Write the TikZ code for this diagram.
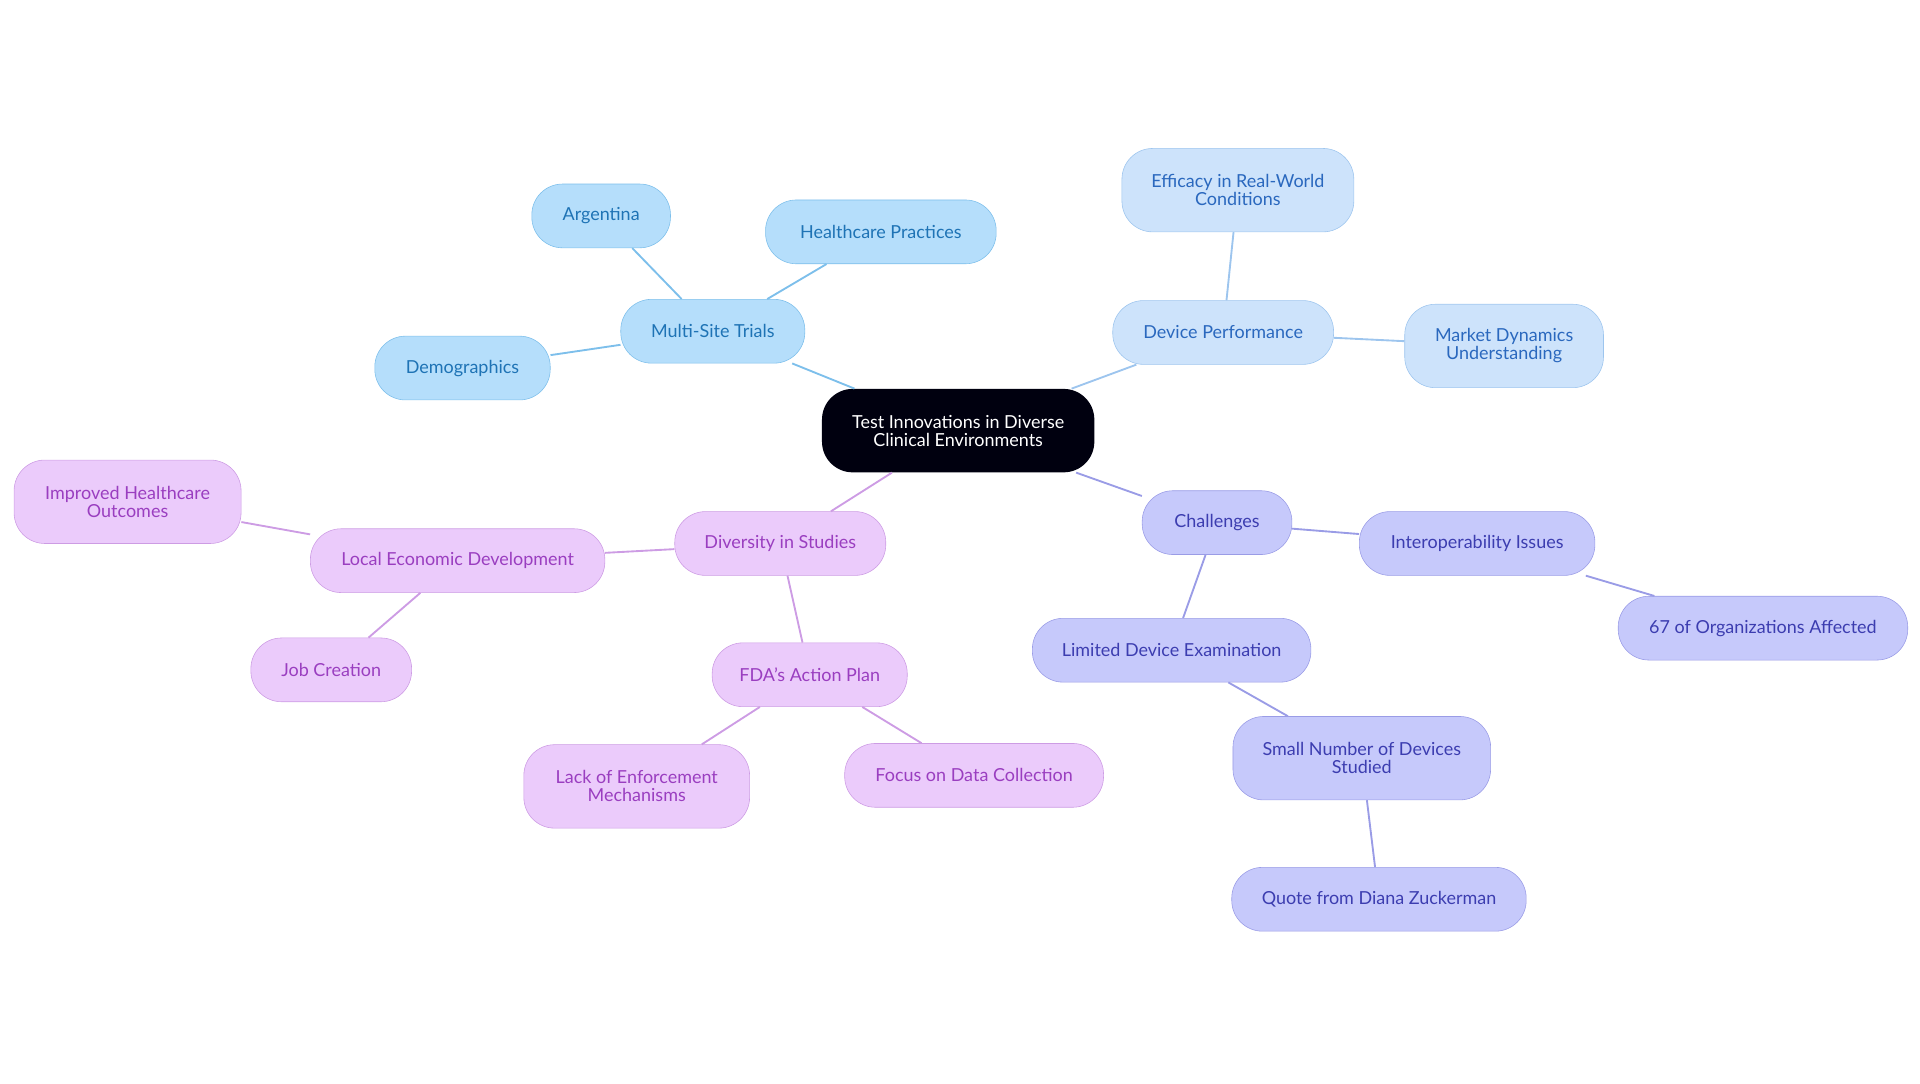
\documentclass[tikz,border=0pt]{standalone}
\usepackage{fontspec}
\setmainfont{Lato}
\definecolor{bluefill}{HTML}{B5DEFB}
\definecolor{blueline}{HTML}{7DBFEB}
\definecolor{bluetext}{HTML}{1E73B5}
\definecolor{skyfill}{HTML}{CDE3FB}
\definecolor{skyline}{HTML}{9DC5EE}
\definecolor{skytext}{HTML}{2A68BE}
\definecolor{indfill}{HTML}{C6C9FB}
\definecolor{indline}{HTML}{9A9CE6}
\definecolor{indtext}{HTML}{3C3DB0}
\definecolor{purfill}{HTML}{EBCBFB}
\definecolor{purline}{HTML}{CD9CE4}
\definecolor{purtext}{HTML}{9A3EC0}
\tikzset{
    BX/.style ={rectangle,rounded corners=7.5mm,minimum height=52*0.3mm,align=center,font=\fontsize{12.5}{12.5}\selectfont,inner sep=1pt},
    BL/.style ={BX,draw=blueline,fill=bluefill,text=bluetext},
    SK/.style ={BX,draw=skyline,fill=skyfill,text=skytext},
    IN/.style ={BX,draw=indline,fill=indfill,text=indtext},
    PU/.style ={BX,draw=purline,fill=purfill,text=purtext},
    LB/.style ={draw=blueline,line width=1.3pt},
    LS/.style ={draw=skyline,line width=1.3pt},
    LI/.style ={draw=indline,line width=1.3pt},
    LP/.style ={draw=purline,line width=1.3pt}}
\begin{document}
\begin{tikzpicture}[x=0.3mm,y=-0.3mm]
        \useasboundingbox (0,0) rectangle (1565,883);
        \node[BX,fill=black!90!blue!60!black,text=white,minimum width=222*0.3mm,minimum height=68*0.3mm] (c) at(781,351){Test Innovations in Diverse\\Clinical Environments};
        \node[BL,minimum width=150*0.3mm] (mst) at(581,270){Multi-Site Trials};
        \node[BL,minimum width=113*0.3mm] (arg) at(490,176){Argentina};
        \node[BL,minimum width=188*0.3mm] (hcp) at(718,189){Healthcare Practices};
        \node[BL,minimum width=143*0.3mm] (dem) at(377,300){Demographics};
        \node[SK,minimum width=180*0.3mm] (dp) at(997,271){Device Performance};
        \node[SK,minimum width=189*0.3mm,minimum height=68*0.3mm] (eff) at(1009,155){Efficacy in Real-World\\Conditions};
        \node[SK,minimum width=162*0.3mm,minimum height=68*0.3mm] (mkt) at(1226,282){Market Dynamics\\Understanding};
        \node[IN,minimum width=122*0.3mm] (ch) at(992,426){Challenges};
        \node[IN,minimum width=192*0.3mm] (io) at(1204,443){Interoperability Issues};
        \node[IN,minimum width=236*0.3mm] (org) at(1437,512){67 of Organizations Affected};
        \node[IN,minimum width=227*0.3mm] (lde) at(955,530){Limited Device Examination};
        \node[IN,minimum width=210*0.3mm,minimum height=68*0.3mm] (snd) at(1110,618){Small Number of Devices\\Studied};
        \node[IN,minimum width=240*0.3mm] (quo) at(1124,733){Quote from Diana Zuckerman};
        \node[PU,minimum width=172*0.3mm] (div) at(636,443){Diversity in Studies};
        \node[PU,minimum width=240*0.3mm] (led) at(373,457){Local Economic Development};
        \node[PU,minimum width=185*0.3mm,minimum height=68*0.3mm] (ihc) at(104,409){Improved Healthcare\\Outcomes};
        \node[PU,minimum width=131*0.3mm] (job) at(270,546){Job Creation};
        \node[PU,minimum width=159*0.3mm] (fda) at(660,550){FDA's Action Plan};
        \node[PU,minimum width=184*0.3mm,minimum height=68*0.3mm] (lem) at(519,641){Lack of Enforcement\\Mechanisms};
        \node[PU,minimum width=211*0.3mm] (fdc) at(794,632){Focus on Data Collection};
        \begin{scope}[on background layer/.style={}]
        \end{scope}
        \draw[LB] (c) -- (mst);
        \draw[LB] (mst) -- (arg);
        \draw[LB] (mst) -- (hcp);
        \draw[LB] (mst) -- (dem);
        \draw[LS] (c) -- (dp);
        \draw[LS] (dp) -- (eff);
        \draw[LS] (dp) -- (mkt);
        \draw[LI] (c) -- (ch);
        \draw[LI] (ch) -- (io);
        \draw[LI] (io) -- (org);
        \draw[LI] (ch) -- (lde);
        \draw[LI] (lde) -- (snd);
        \draw[LI] (snd) -- (quo);
        \draw[LP] (c) -- (div);
        \draw[LP] (div) -- (led);
        \draw[LP] (led) -- (ihc);
        \draw[LP] (led) -- (job);
        \draw[LP] (div) -- (fda);
        \draw[LP] (fda) -- (lem);
        \draw[LP] (fda) -- (fdc);
    \end{tikzpicture}
\end{document}
